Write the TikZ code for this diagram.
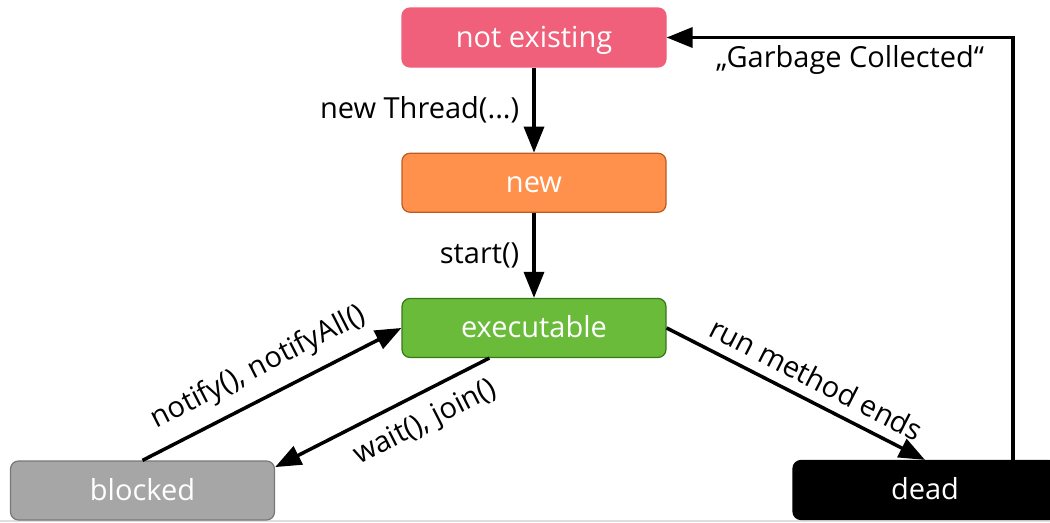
\documentclass[tikz,border=0pt]{standalone}
\usepackage{fontspec}
\setmainfont{Open Sans}
\usetikzlibrary{positioning, arrows.meta}
\definecolor{pinkstate}{RGB}{240,96,122}
\definecolor{orangestate}{RGB}{255,145,77}
\definecolor{orangeline}{RGB}{190,90,30}
\definecolor{greenstate}{RGB}{106,187,58}
\definecolor{greenline}{RGB}{55,120,25}
\definecolor{graystate}{RGB}{166,166,166}
\definecolor{grayline}{RGB}{120,120,120}

\begin{document}
\begin{tikzpicture}[node distance=1.7cm, font=\fontsize{16.5}{19.5}\selectfont,
    state/.style={rectangle, rounded corners=0.16cm, text=white,
      minimum width=5.28cm, minimum height=1.18cm, line width=0.7pt,
      text height=0.45cm, text depth=0.07cm},
    trans/.style={-{Triangle[length=0.52cm, width=0.4cm]}, line width=0.07cm},
    translabel/.style={inner sep=0.26cm}]
  \useasboundingbox (0,0) rectangle (21,-10.44);
  \draw[gray!25, line width=0.6pt] (0,-10.42) -- (21,-10.42);

  % states
  \node[state, fill=pinkstate, draw=pinkstate] (notex) at (10.68,-0.75) {not existing};
  \node[state, fill=orangestate, draw=orangeline, below=of notex] (new) {new};
  \node[state, fill=greenstate, draw=greenline, below=of new] (exec) {executable};
  \node[state, fill=graystate, draw=grayline] (blocked) at (2.85,-9.81) {blocked};
  \node[state, fill=black, draw=black] (dead) at (18.5,-9.8) {dead};

  % transitions
  \draw[trans] (notex) -- node[translabel, left] {new Thread(...)} (new);
  \draw[trans] (new) -- node[translabel, left] {start()} (exec);
  \draw[trans] (blocked.north) -- node[translabel, midway, above, sloped] {notify(), notifyAll()} (exec.west);
  \draw[trans] (exec.214) -- node[translabel, pos=0.36, below, sloped] {wait(), join()} (blocked.10);
  \draw[trans] (exec.east) -- node[inner sep=0.2cm, pos=0.54, above, sloped] {run method ends} (dead.north);
  \draw[trans] ([xshift=1.76cm]dead.north) |- node[pos=0.735, below] {„Garbage Collected“} (notex.east);
\end{tikzpicture}
\end{document}
